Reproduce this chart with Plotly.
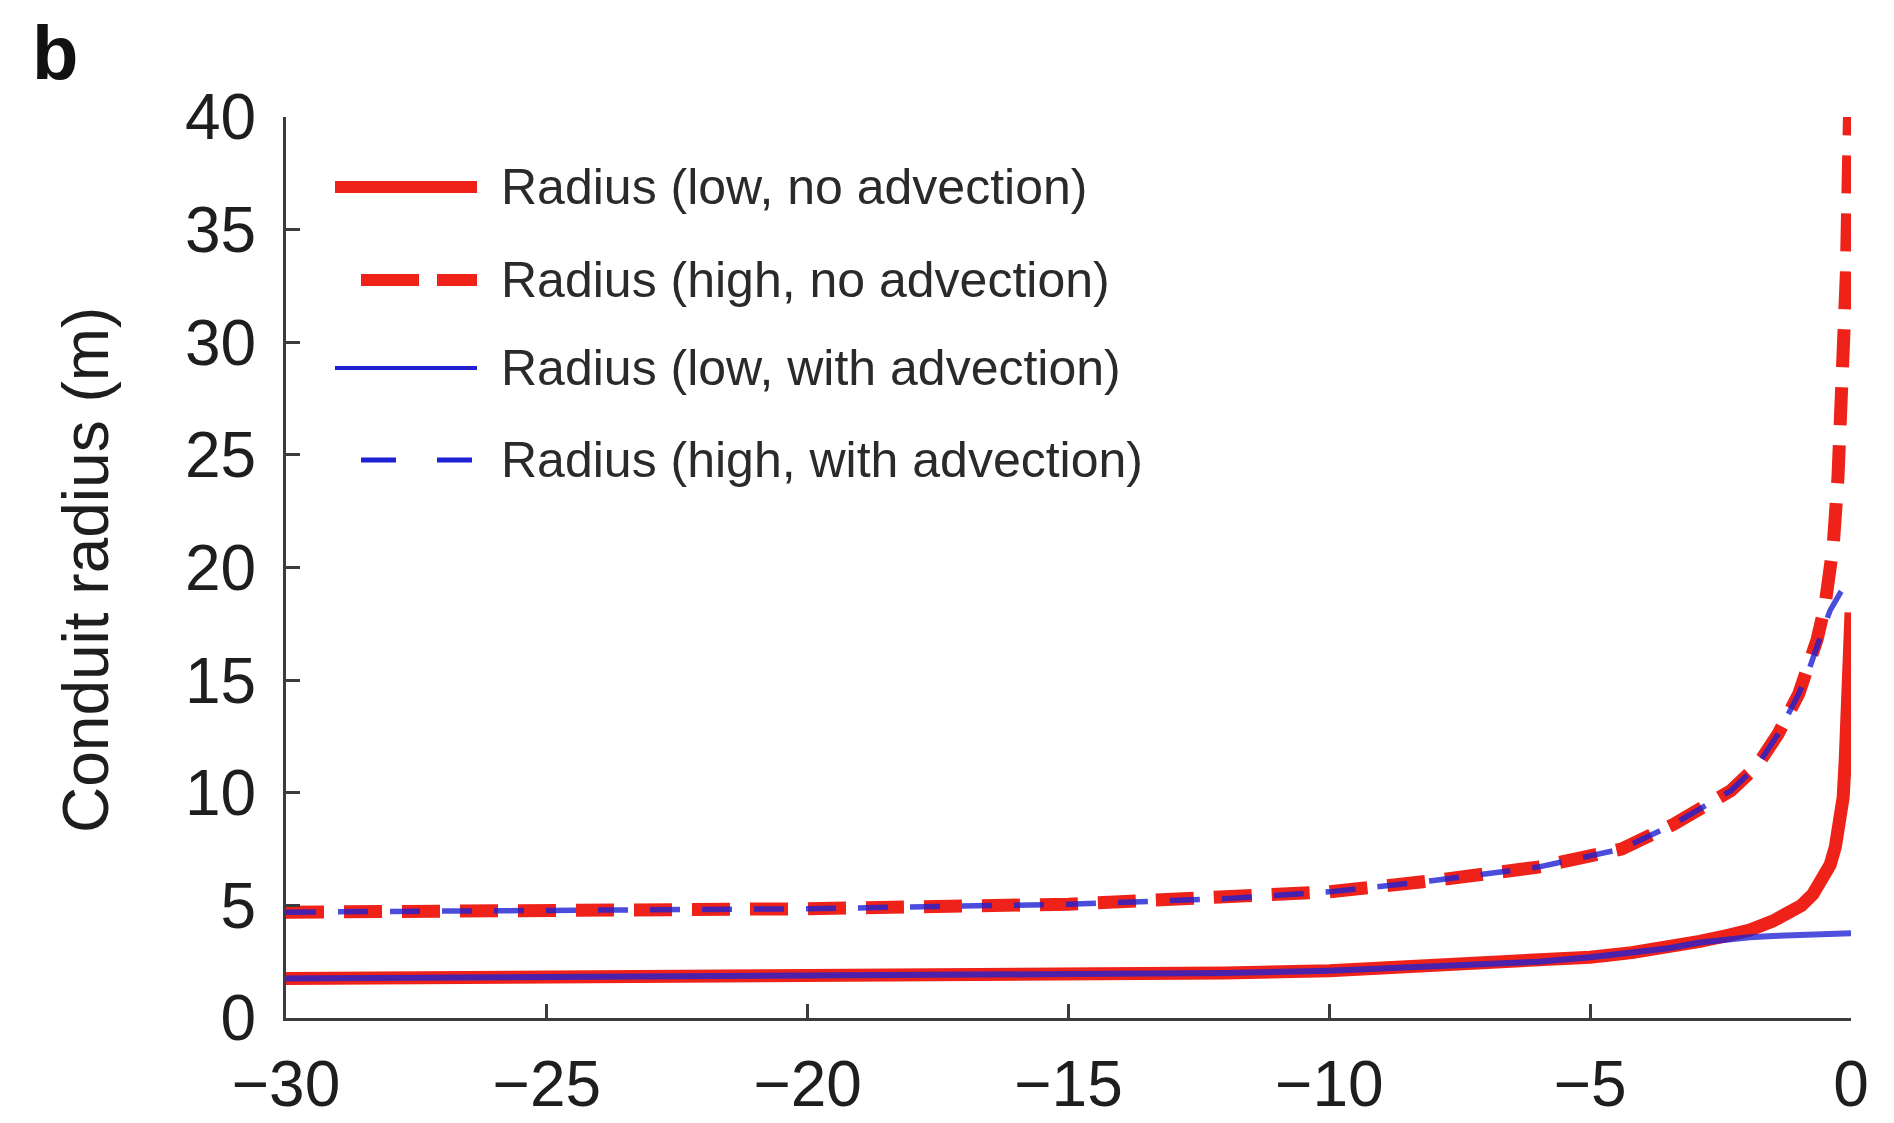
import plotly.graph_objects as go

# ---------------- data ----------------
x_low_noadv = [-30, -25, -20, -15, -12, -10, -8, -6, -5, -4.2, -3.5, -2.9, -2.4, -1.94,
               -1.5, -1.23, -0.95, -0.73, -0.55, -0.4, -0.3, -0.21, -0.15, -0.11,
               -0.08, -0.05, -0.02, 0]
r_low_noadv = [1.75, 1.8, 1.88, 1.95, 2.0, 2.1, 2.3, 2.5, 2.7, 2.9, 3.1, 3.4, 3.65, 3.9,
               4.3, 4.6, 5.0, 5.5, 6.1, 6.8, 7.6, 8.6, 9.8, 11.5,
               13.2, 15.0, 16.8, 18.0]

x_high_noadv = [-30, -25, -20, -15, -12, -10, -8, -6, -5, -4.4, -3.4, -2.3, -1.8, -1.4,
                -1.0, -0.8, -0.65, -0.5, -0.4, -0.34, -0.25, -0.18, -0.13, -0.09,
                -0.06, -0.03]
r_high_noadv = [4.7, 4.75, 4.85, 5.05, 5.3, 5.6, 6.1, 6.7, 7.2, 7.5, 8.6, 10.1, 11.2, 12.6,
                14.4, 15.6, 16.8, 18.3, 19.8, 21.0, 24.0, 27.0, 30.0, 33.0,
                36.5, 40.0]

x_low_adv = [-30, -25, -20, -15, -12, -10, -8, -6, -5, -4.2, -3.5, -2.9, -2.4, -1.94,
             -1.5, -1.0, -0.5, 0]
r_low_adv = [1.75, 1.8, 1.88, 1.95, 2.0, 2.1, 2.3, 2.5, 2.7, 2.9, 3.1, 3.35, 3.5, 3.58,
             3.64, 3.7, 3.73, 3.76]

x_high_adv = [-30, -25, -20, -15, -12, -10, -8, -6, -5, -4.4, -3.4, -2.3, -1.8, -1.4,
              -1.0, -0.8, -0.65, -0.4, -0.2, 0]
r_high_adv = [4.7, 4.75, 4.85, 5.05, 5.3, 5.6, 6.1, 6.7, 7.2, 7.5, 8.6, 10.1, 11.2, 12.6,
              14.4, 15.5, 16.5, 18.1, 18.9, 19.5]

series_names = ["Radius (low, no advection)", "Radius (high, no advection)",
                "Radius (low, with advection)", "Radius (high, with advection)"]

x_ticks = [-30, -25, -20, -15, -10, -5, 0]
y_ticks = [0, 5, 10, 15, 20, 25, 30, 35, 40]

# ---------------- styling ----------------
RED = "rgb(238,34,24)"
BLUE = "rgb(30,32,212)"
AXIS = "#3c3c3c"
TXT = "#1e1e1e"
FONT = "Liberation Sans, Arial, Helvetica, sans-serif"

W, H = 1894, 1123
L, R, T, B = 286, 43, 117, 105
PW, PH = W - L - R, H - T - B


def px(xp):
    return (xp - L) / PW


def py(yp):
    return (H - B - yp) / PH


fig = go.Figure()
fig.add_trace(go.Scatter(x=x_low_noadv, y=r_low_noadv, mode="lines", name=series_names[0],
                         line=dict(color=RED, width=13), showlegend=False))
fig.add_trace(go.Scatter(x=x_high_noadv, y=r_high_noadv, mode="lines", name=series_names[1],
                         line=dict(color=RED, width=13, dash="38px,20px"), showlegend=False))
fig.add_trace(go.Scatter(x=x_low_adv, y=r_low_adv, mode="lines", name=series_names[2],
                         line=dict(color=BLUE, width=6), opacity=0.78, showlegend=False))
fig.add_trace(go.Scatter(x=x_high_adv, y=r_high_adv, mode="lines", name=series_names[3],
                         line=dict(color=BLUE, width=5.5, dash="30px,22px"), opacity=0.8,
                         showlegend=False))

# ---------------- hand-made legend ----------------
rows_y = [187, 280, 368, 460]
samples = [
    dict(x0=335, color=RED, width=12, dash="solid"),
    dict(x0=361, color=RED, width=12, dash="58px,18px"),
    dict(x0=335, color=BLUE, width=4, dash="solid"),
    dict(x0=361, color=BLUE, width=5, dash="35px,41px"),
]
shapes = []
annotations = []
for name, yy, s in zip(series_names, rows_y, samples):
    shapes.append(dict(type="line", xref="paper", yref="paper",
                       x0=px(s["x0"]), x1=px(477), y0=py(yy), y1=py(yy),
                       line=dict(color=s["color"], width=s["width"], dash=s["dash"])))
    annotations.append(dict(text=name, xref="paper", yref="paper", x=px(499), y=py(yy),
                            xanchor="left", yanchor="middle", showarrow=False,
                            font=dict(family=FONT, size=50, color="#2a2a2a")))

annotations.append(dict(text="Conduit radius (m)", xref="paper", yref="paper",
                        x=px(86), y=py(570), xanchor="center", yanchor="middle",
                        textangle=-90, showarrow=False,
                        font=dict(family=FONT, size=64, color=TXT)))
annotations.append(dict(text="<b>b</b>", xref="paper", yref="paper",
                        x=px(55), y=py(52), xanchor="center", yanchor="middle",
                        showarrow=False, font=dict(family=FONT, size=76, color="#111")))

axis_common = dict(showgrid=False, zeroline=False, showline=True, linecolor=AXIS,
                   linewidth=3, ticks="inside", ticklen=14, tickwidth=3, tickcolor=AXIS,
                   tickfont=dict(family=FONT, size=64, color=TXT), mirror=False,
                   automargin=False)

fig.update_layout(
    width=W, height=H,
    margin=dict(l=L, r=R, t=T, b=B),
    paper_bgcolor="white", plot_bgcolor="white",
    xaxis=dict(range=[-30, 0], tickvals=x_ticks, ticklabelstandoff=8, **axis_common),
    yaxis=dict(range=[0, 40], tickvals=y_ticks, ticklabelstandoff=14, **axis_common),
    shapes=shapes, annotations=annotations, showlegend=False,
)

fig.write_html("out.html")
